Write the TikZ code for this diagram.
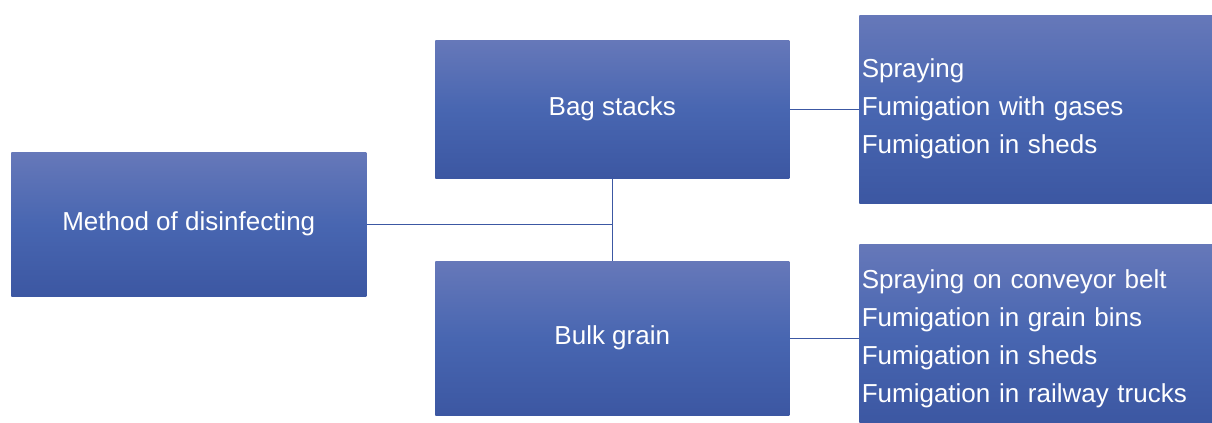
\documentclass[tikz,border=0pt]{standalone}
\usepackage{fontspec}
\setmainfont{Liberation Sans}
\usepackage{xcolor}
\usetikzlibrary{positioning}

\definecolor{boxtop}{HTML}{6678B9}
\definecolor{boxmid}{HTML}{4866B1}
\definecolor{boxbot}{HTML}{3C57A2}
\definecolor{linkblue}{HTML}{3C58A3}

\begin{document}
\begin{tikzpicture}[
    x=1pt, y=-1pt,
    every node/.style={font=\fontsize{19.5}{28.5}\selectfont, text=white},
    block/.style={rectangle, top color=boxtop, bottom color=boxbot, middle color=boxmid,
                  minimum width=#1, anchor=north west, inner sep=0pt, align=center},
    block/.default=265.5pt,
    listbox/.style={block=264.75pt, align=left, text width=261pt, inner xsep=1.5pt},
    arr/.style={draw=linkblue, line width=0.75pt},
  ]
    \useasboundingbox (0,0) rectangle (909,317.25);

    % --- Root ---
    \node[block=266.25pt, minimum height=108pt]   (method) at (8.25,114)   {Method of disinfecting};

    % --- Storage forms ---
    \node[block, minimum height=103.5pt]          (bag)    at (326.25,30)  {Bag stacks};
    \node[block, minimum height=115.5pt]          (bulk)   at (326.25,195.75) {Bulk grain};

    % --- Treatments ---
    \node[listbox, minimum height=141pt]          (baglist)  at (644.25,11.25)
        {Spraying\\Fumigation with gases\\Fumigation in sheds};
    \node[listbox, minimum height=134.25pt]       (bulklist) at (644.25,183)
        {\rule{0pt}{22pt}Spraying on conveyor belt\\Fumigation in grain bins\\Fumigation in sheds\\Fumigation in railway trucks};

    % --- Connectors ---
    \draw[arr] (method.east) -- (method.east -| bag.south);
    \draw[arr] (bag.south) -- (bulk.north);
    \draw[arr] (bag.east) -- (bag.east -| baglist.west);
    \draw[arr] (bulk.east) -- (bulk.east -| bulklist.west);
\end{tikzpicture}
\end{document}
